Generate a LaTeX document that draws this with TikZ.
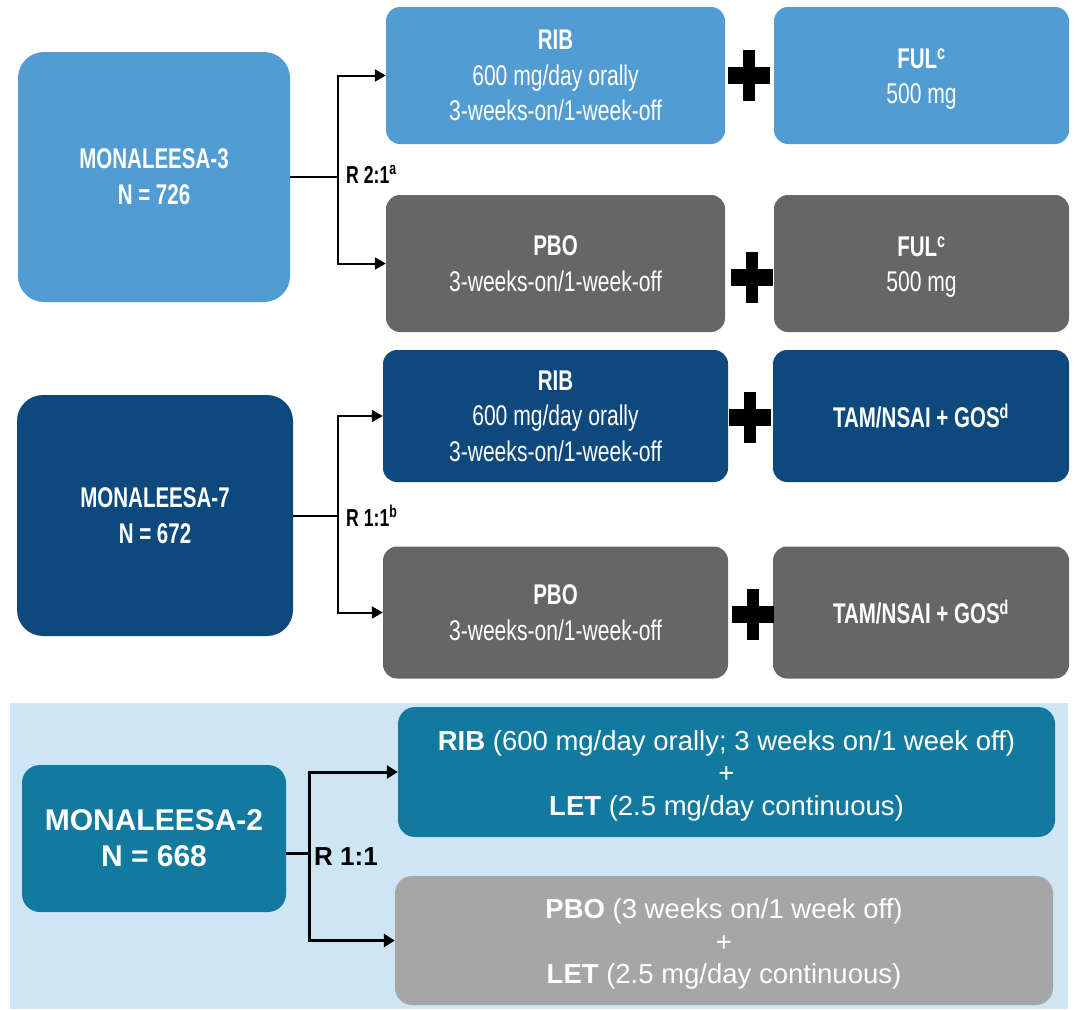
\documentclass[tikz,border=0pt]{standalone}
\usepackage{fontspec}
\setmainfont{Liberation Sans}
\newfontfamily\narrowreg[FakeStretch=0.74]{Liberation Sans}
\newfontfamily\narrowbf[FakeStretch=0.72]{Liberation Sans}
\usetikzlibrary{arrows.meta}
\definecolor{lblue}{RGB}{82,156,212}
\definecolor{navy}{RGB}{14,73,126}
\definecolor{dgray}{RGB}{102,102,102}
\definecolor{tealb}{RGB}{19,122,159}
\definecolor{lgray}{RGB}{166,166,166}
\definecolor{bgblue}{RGB}{206,229,244}
\newcommand\hb[1]{{\narrowbf\bfseries #1}}
\newcommand\tallstrut{\rule{0pt}{27pt}}
\tikzset{
  box/.style={rectangle, rounded corners=14pt, inner sep=0pt, text=white, align=center},
  head/.style={box, rounded corners=26pt, font={\narrowbf\bfseries\fontsize{28.5}{36}\selectfont}},
  arm/.style={box, font={\narrowreg\fontsize{28.5}{35.5}\selectfont}},
  toparm/.style={arm, minimum width=339pt, minimum height=137pt},
  topful/.style={arm, minimum width=295pt, minimum height=137pt},
  midarm/.style={arm, minimum width=345pt, minimum height=132pt},
  midtam/.style={arm, minimum width=296pt, minimum height=132pt},
  lab/.style={anchor=west, inner sep=0pt, text=black, font={\narrowbf\bfseries\fontsize{24.5}{28}\selectfont}},
  conn/.style={draw=black, line width=2pt},
  connar/.style={conn, -{Triangle[length=11pt,width=12pt]}},
  bhead/.style={box, rounded corners=18pt, font={\bfseries\fontsize{30}{36}\selectfont}},
  barm/.style={box, rounded corners=17pt, font={\fontsize{27.5}{32.5}\selectfont}},
  bconn/.style={draw=black, line width=3pt},
  bconnar/.style={bconn, -{Triangle[length=11pt,width=13pt]}},
  pics/plussign/.style={code={
    \fill[black] (-21,-8.5) rectangle (21,8.5);
    \fill[black] (-6,-25.5) rectangle (6,25.5);
  }}
}
\begin{document}
\begin{tikzpicture}[x=1pt,y=-1pt]
\useasboundingbox[fill=white] (0,0) rectangle (1075,1009);

% ---------------- MONALEESA-3 ----------------
\node[head, fill=lblue, minimum width=272pt, minimum height=250pt] (ml3) at (154,177) {MONALEESA-3\\N = 726};
\node[toparm, fill=lblue] (rib3) at (555.5,75.5) {\hb{RIB}\\600 mg/day orally\\3-weeks-on/1-week-off};
\node[topful, fill=lblue] (ful3a) at (921.5,75.5) {\tallstrut\hb{FUL\textsuperscript{c}}\\500 mg};
\node[toparm, fill=dgray] (pbo3) at (555.5,263.5) {\hb{PBO}\\3-weeks-on/1-week-off};
\node[topful, fill=dgray] (ful3b) at (921.5,263.5) {\tallstrut\hb{FUL\textsuperscript{c}}\\500 mg};
\pic (plus3a) at (749,75) {plussign};
\pic (plus3b) at (752,277) {plussign};
\coordinate (j3) at (338,177);
\draw[conn] (ml3.east) -- (j3);
\draw[connar] (j3) |- (rib3.west);
\draw[connar] (j3) |- (pbo3.west);
\node[lab] (r3) at (346,174) {R 2:1\textsuperscript{a}};

% ---------------- MONALEESA-7 ----------------
\node[head, fill=navy, minimum width=276pt, minimum height=241pt] (ml7) at (155,515.5) {MONALEESA-7\\N = 672};
\node[midarm, fill=navy] (rib7) at (555.5,416) {\hb{RIB}\\600 mg/day orally\\3-weeks-on/1-week-off};
\node[midtam, fill=navy] (tam7a) at (921,416) {\hb{TAM/NSAI + GOS\textsuperscript{d}}};
\node[midarm, fill=dgray] (pbo7) at (555.5,612.5) {\hb{PBO}\\3-weeks-on/1-week-off};
\node[midtam, fill=dgray] (tam7b) at (921,612.5) {\hb{TAM/NSAI + GOS\textsuperscript{d}}};
\pic (plus7a) at (749.5,417) {plussign};
\pic (plus7b) at (752.5,614) {plussign};
\coordinate (j7) at (337.5,515.5);
\draw[conn] (ml7.east) -- (j7);
\draw[connar] (j7) |- (rib7.west);
\draw[connar] (j7) |- (pbo7.west);
\node[lab] (r7) at (346,516) {R 1:1\textsuperscript{b}};

% ---------------- MONALEESA-2 ----------------
\node[fill=bgblue, minimum width=1058pt, minimum height=306pt, inner sep=0pt] (bg) at (539,856) {};
\node[bhead, fill=tealb, minimum width=264pt, minimum height=147pt] (ml2) at (154,838.5) {MONALEESA-2\\N = 668};
\node[barm, fill=tealb, minimum width=657pt, minimum height=130pt] (rib2) at (726.5,772) {\tallstrut\textbf{RIB} (600 mg/day orally; 3 weeks on/1 week off)\\+\\\textbf{LET} (2.5 mg/day continuous)};
\node[barm, fill=lgray, minimum width=658pt, minimum height=129pt] (pbo2) at (724,940.5) {\tallstrut\textbf{PBO} (3 weeks on/1 week off)\\+\\\textbf{LET} (2.5 mg/day continuous)};
\coordinate (j2) at (309,853);
\draw[bconn] (ml2.east |- j2) -- (j2);
\draw[bconnar] (j2) |- (rib2.west);
\draw[bconnar] (j2) |- (pbo2.west);
\node[lab, font={\bfseries\fontsize{26}{30}\selectfont}] (r2) at (314,857) {R 1:1};
\end{tikzpicture}
\end{document}
